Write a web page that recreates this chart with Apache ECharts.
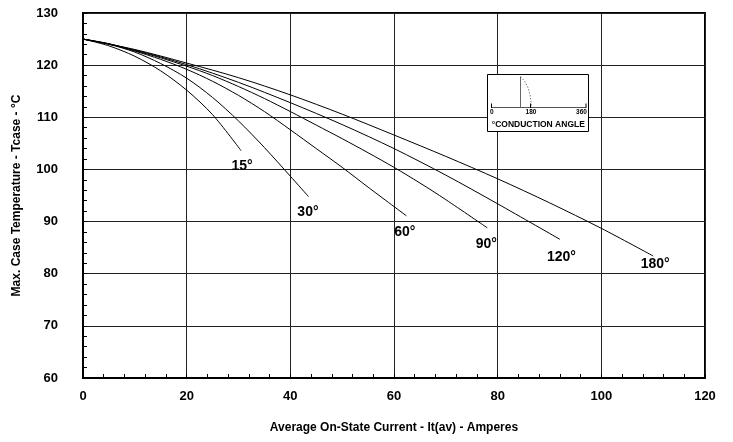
<!DOCTYPE html>
<html>
<head>
<meta charset="utf-8">
<script src="https://cdn.jsdelivr.net/npm/echarts@6/dist/echarts.min.js"></script>
<style>html,body{margin:0;padding:0;background:#fff}#c{width:733px;height:442px}</style>
</head>
<body>
<div id="c"></div>
<script>
// Data
const curve15  = [[0,125],[5,123.7],[10,121.7],[15,118.9],[20,115.2],[25,110.5],[30.5,103.6]];
const curve30  = [[0,125],[5,124.0],[10,122.5],[15,120.3],[20,117.5],[25,113.8],[30,109.3],[35,104.2],[40,98.7],[43.5,94.8]];
const curve60  = [[0,125],[5,124.1],[10,122.7],[15,121.1],[20,119.2],[25,116.9],[30,114.2],[35,111.1],[40,107.6],[45,104.0],[50,100.4],[55,96.6],[62.4,91.1]];
const curve90  = [[0,125],[5,124.1],[10,122.8],[15,121.4],[20,119.8],[25,118.0],[30,115.9],[35,113.6],[40,111.1],[45,108.5],[50,105.9],[55,103.2],[60,100.4],[65,97.4],[70,94.2],[78,88.8]];
const curve120 = [[0,125],[10,122.9],[20,120.1],[30,116.7],[40,112.8],[50,108.6],[60,104.0],[70,98.9],[80,93.4],[92,86.6]];
const curve180 = [[0,125],[10,123.0],[20,120.4],[30,117.6],[40,114.3],[50,110.6],[60,106.6],[70,102.5],[80,98.2],[90,93.6],[100,88.7],[110,83.4]];
const curveLabels = [[30.7,100.6,'15°'],[43.4,91.8,'30°'],[62.1,87.9,'60°'],[77.8,85.7,'90°'],[92.3,83.2,'120°'],[110.4,81.8,'180°']];
const xTitle = 'Average On-State Current - It(av) - Amperes';
const yTitle = 'Max. Case Temperature - Tcase - °C';
const insetTicks = ['0','180','360'];
const insetTitle = '°CONDUCTION ANGLE';

const font = '"Liberation Sans", Arial, Helvetica, sans-serif';
const chart = echarts.init(document.getElementById('c'));

function lineSeries(data){
  return {type:'line', data:data, smooth:0.3, symbol:'none', silent:true,
    lineStyle:{color:'#000', width:1}, z:3};
}

const option = {
  animation:false,
  backgroundColor:'#fff',
  grid:{left:83, right:28, top:13, bottom:64, show:true, borderColor:'#000', borderWidth:2, backgroundColor:'transparent'},
  xAxis:{type:'value', min:0, max:120, interval:20,
    name:xTitle, nameLocation:'middle', nameGap:44,
    nameTextStyle:{fontFamily:font, fontWeight:'bold', fontSize:12, color:'#000'},
    axisLine:{show:true, lineStyle:{color:'#000', width:2}},
    axisTick:{show:true, inside:true, length:4, lineStyle:{color:'#000'}},
    minorTick:{show:true, splitNumber:5, length:4, lineStyle:{color:'#000', width:1}},
    axisLabel:{fontFamily:font, fontWeight:'bold', fontSize:13, color:'#000', margin:12},
    splitLine:{show:true, lineStyle:{color:'#222', width:1}}
  },
  yAxis:{type:'value', min:60, max:130, interval:10,
    name:yTitle, nameLocation:'middle', nameGap:60, nameRotate:90,
    nameTextStyle:{fontFamily:font, fontWeight:'bold', fontSize:12, color:'#000'},
    axisLine:{show:true, lineStyle:{color:'#000', width:2}},
    axisTick:{show:true, inside:true, length:4, lineStyle:{color:'#000'}},
    minorTick:{show:true, splitNumber:5, length:4, lineStyle:{color:'#000', width:1}},
    axisLabel:{fontFamily:font, fontWeight:'bold', fontSize:13, color:'#000', margin:25},
    splitLine:{show:true, lineStyle:{color:'#222', width:1}}
  },
  series:[
    lineSeries(curve15), lineSeries(curve30), lineSeries(curve60),
    lineSeries(curve90), lineSeries(curve120), lineSeries(curve180),
    {type:'scatter', data:curveLabels, symbolSize:0, silent:true, z:4,
      itemStyle:{color:'#000', opacity:1},
      label:{show:true, position:'inside', formatter:p=>p.data[2], opacity:1,
        fontFamily:font, fontWeight:'bold', fontSize:14, color:'#000',
        textBorderWidth:0, textBorderColor:'transparent'}}
  ],
  graphic:[
    {type:'rect', shape:{x:487.5, y:74.5, width:101, height:57}, style:{fill:'#fff', stroke:'#000', lineWidth:1}, z:10},
    {type:'line', shape:{x1:491.5, y1:107.5, x2:586, y2:107.5}, style:{stroke:'#555', lineWidth:1}, z:11},
    {type:'line', shape:{x1:491.5, y1:103.5, x2:491.5, y2:108}, style:{stroke:'#000', lineWidth:1}, z:11},
    {type:'line', shape:{x1:530.5, y1:103.5, x2:530.5, y2:108}, style:{stroke:'#000', lineWidth:1}, z:11},
    {type:'line', shape:{x1:586, y1:103.5, x2:586, y2:108}, style:{stroke:'#000', lineWidth:1}, z:11},
    {type:'line', shape:{x1:520.5, y1:76.5, x2:520.5, y2:107.5}, style:{stroke:'#666', lineWidth:1}, z:11},
    {type:'polyline', shape:{points:[[520.5,76.7],[525,81.7],[528.3,88.3],[530,95],[531,101.7],[531.5,107]]}, style:{stroke:'#777', lineWidth:1, lineDash:[1.5,1.5], fill:null}, z:11},
    {type:'text', x:491.7, y:112, style:{text:insetTicks[0], font:'bold 6.5px '+font, fill:'#000', align:'center', verticalAlign:'middle'}, z:11},
    {type:'text', x:531, y:112, style:{text:insetTicks[1], font:'bold 6.5px '+font, fill:'#000', align:'center', verticalAlign:'middle'}, z:11},
    {type:'text', x:581.5, y:112, style:{text:insetTicks[2], font:'bold 6.5px '+font, fill:'#000', align:'center', verticalAlign:'middle'}, z:11},
    {type:'text', x:538.3, y:125, style:{text:insetTitle, font:'bold 8.5px '+font, fill:'#000', align:'center', verticalAlign:'middle'}, z:11}
  ]
};
chart.setOption(option);
</script>
</body>
</html>
